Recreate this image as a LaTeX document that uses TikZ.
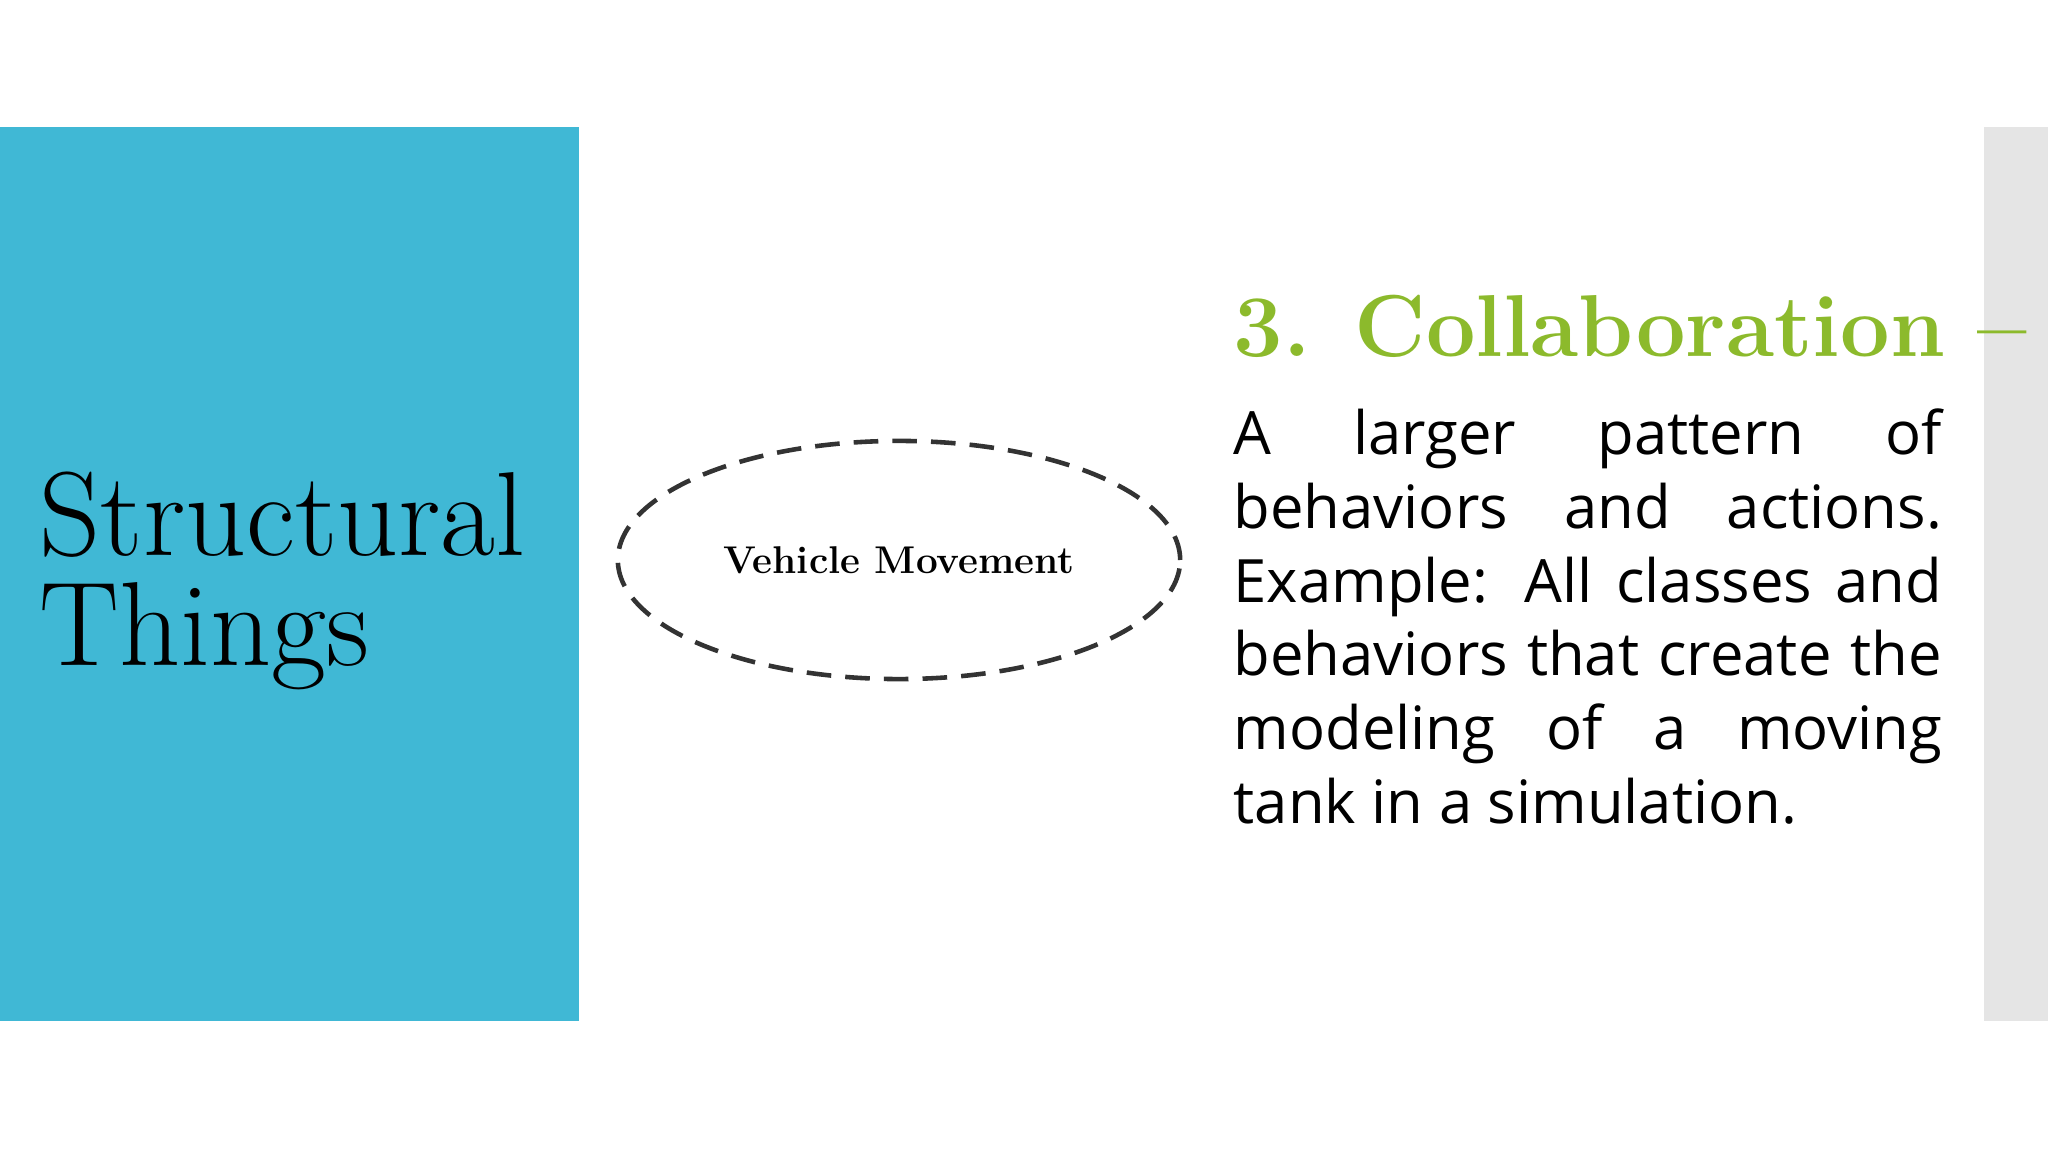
\documentclass[tikz,border=0pt]{standalone}
\usepackage{fontspec}
\newfontfamily\bodyfont{Open Sans}
\usetikzlibrary{shapes.geometric}
\definecolor{bluepanel}{HTML}{40B8D5}
\definecolor{graybar}{HTML}{E5E5E5}
\definecolor{titlegreen}{HTML}{8CBA2C}
\tikzset{
  panel/.style={fill=bluepanel,draw=none},
  bar/.style={fill=graybar,draw=none},
  bigtitle/.style={anchor=base west,inner sep=0pt,font=\fontsize{34}{40}\selectfont},
  collab/.style={ellipse,draw=black!80,dashed,dash pattern=on 7pt off 4pt,line width=1.3pt,minimum width=5.62cm,minimum height=2.38cm},
  bodytext/.style={anchor=north west,text width=7.08cm,align=justify,inner sep=0pt,font=\bodyfont\fontsize{17}{21}\selectfont}
}
\begin{document}
\begin{tikzpicture}[x=0.01cm,y=-0.01cm]
\useasboundingbox (0,0) rectangle (2048,1152);
\fill[white] (0,0) rectangle (2048,1152);
\path[panel] (0,127) rectangle (579,1021);
\path[bar] (1984,127) rectangle (2048,1021);
\node[bigtitle] (title1) at (39,555) {Structural};
\node[bigtitle] (title2) at (39,666) {Things};
\node[collab] (ell) at (899,560) {\fontsize{11}{13}\selectfont\bfseries Vehicle Movement};
\node[anchor=base west,inner sep=0pt,text=titlegreen,font=\fontsize{25}{30}\selectfont\bfseries] (head) at (1233,357) {3. Collaboration --};
\node[bodytext] (body) at (1233,408) {\hyphenpenalty=10000 A larger pattern of\linebreak behaviors and actions.\linebreak Example: All classes and\linebreak behaviors that create the\linebreak modeling of a moving\linebreak tank in a simulation.};
\end{tikzpicture}
\end{document}
